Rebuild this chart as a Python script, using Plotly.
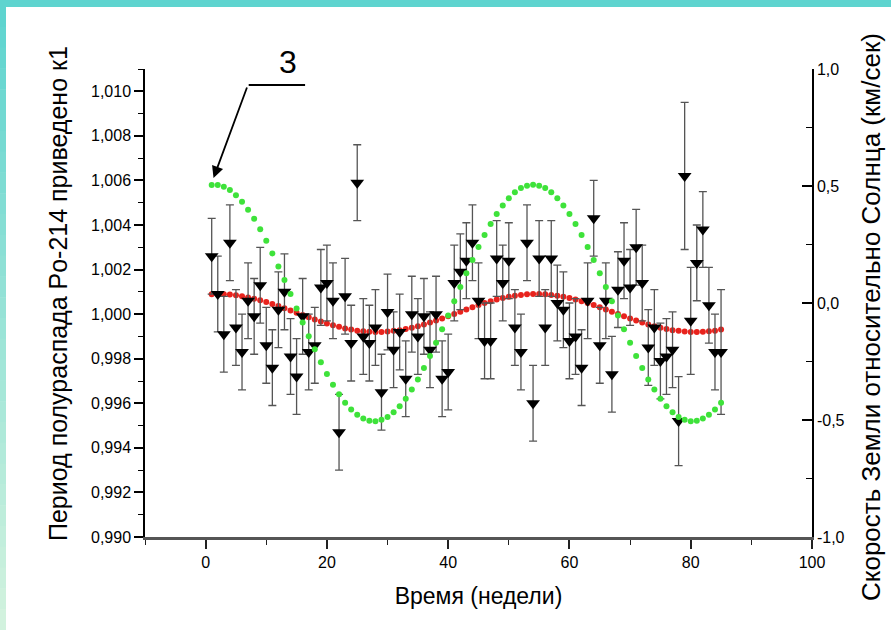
import plotly.graph_objects as go

# --- data -------------------------------------------------------------
weeks = list(range(1, 86))

# normalised Po-214 half-life measurements (left axis)
half_life = [
    1.0026, 1.0009, 0.9991, 1.0032, 0.9994, 0.9983, 1.0006, 0.9999, 1.0013, 0.9986,
    0.9976, 1.0002, 1.0010, 0.9981, 0.9972, 0.9999, 0.9983, 0.9986, 1.0012, 1.0014,
    1.0006, 0.9947, 1.0008, 0.9987, 1.0059, 0.9990, 0.9987, 0.9994, 0.9965, 1.0001,
    0.9984, 0.9992, 0.9971, 1.0000, 0.9990, 0.9999, 0.9984, 1.0000, 0.9971, 0.9974,
    1.0014, 1.0019, 1.0024, 1.0032, 1.0006, 0.9988, 0.9988, 1.0025, 1.0014, 1.0024,
    0.9994, 0.9983, 1.0032, 0.9960, 1.0025, 0.9994, 1.0025, 1.0005, 1.0002, 0.9988,
    0.9990, 0.9976, 1.0006, 1.0043, 0.9986, 1.0006, 0.9973, 1.0011, 1.0024, 1.0012,
    1.0030, 1.0014, 0.9985, 0.9994, 0.9979, 0.9981, 0.9984, 0.9952, 1.0062, 0.9997,
    1.0023, 1.0038, 1.0004, 0.9983, 0.9983,
]

half_life_err = [0.0017] * 77 + [0.0020, 0.0033, 0.0024, 0.0017, 0.0017, 0.0017, 0.0017, 0.0028]

# fitted half-life curve (left axis)
half_life_fit = [
    1.00089, 1.00090, 1.00089, 1.00088, 1.00085, 1.00080, 1.00075, 1.00069, 1.00062, 1.00054,
    1.00045, 1.00036, 1.00026, 1.00016, 1.00006, 0.99996, 0.99986, 0.99976, 0.99967, 0.99958,
    0.99950, 0.99943, 0.99936, 0.99931, 0.99926, 0.99923, 0.99921, 0.99920, 0.99920, 0.99922,
    0.99925, 0.99928, 0.99933, 0.99939, 0.99946, 0.99954, 0.99963, 0.99972, 0.99981, 0.99991,
    1.00001, 1.00011, 1.00021, 1.00031, 1.00041, 1.00050, 1.00058, 1.00066, 1.00072, 1.00078,
    1.00083, 1.00086, 1.00089, 1.00090, 1.00090, 1.00089, 1.00086, 1.00083, 1.00078, 1.00072,
    1.00066, 1.00058, 1.00050, 1.00041, 1.00031, 1.00021, 1.00011, 1.00001, 0.99991, 0.99981,
    0.99972, 0.99963, 0.99954, 0.99946, 0.99939, 0.99933, 0.99928, 0.99925, 0.99922, 0.99920,
    0.99920, 0.99921, 0.99923, 0.99926, 0.99931,
]

# Earth velocity relative to the Sun, deviation in km/s (right axis)
earth_velocity = [
    0.504, 0.504, 0.497, 0.483, 0.461, 0.433, 0.399, 0.360, 0.315, 0.266,
    0.212, 0.156, 0.098, 0.038, -0.023, -0.083, -0.142, -0.198, -0.253, -0.303,
    -0.349, -0.390, -0.426, -0.455, -0.478, -0.494, -0.503, -0.505, -0.499, -0.487,
    -0.467, -0.441, -0.409, -0.370, -0.327, -0.278, -0.226, -0.170, -0.112, -0.053,
    0.008, 0.068, 0.127, 0.184, 0.239, 0.291, 0.338, 0.380, 0.417, 0.448,
    0.473, 0.491, 0.501, 0.505, 0.501, 0.491, 0.473, 0.448, 0.417, 0.380,
    0.338, 0.291, 0.239, 0.184, 0.127, 0.068, 0.008, -0.053, -0.112, -0.170,
    -0.226, -0.278, -0.327, -0.370, -0.409, -0.441, -0.467, -0.487, -0.499, -0.505,
    -0.503, -0.494, -0.478, -0.455, -0.426,
]

x_ticks = [0, 20, 40, 60, 80, 100]
left_ticks = [0.990, 0.992, 0.994, 0.996, 0.998, 1.000, 1.002, 1.004, 1.006, 1.008, 1.010]
right_ticks = [-1.0, -0.5, 0.0, 0.5, 1.0]
right_tick_text = ["-1,0", "-0,5", "0,0", "0,5", "1,0"]

left_title = "Период полураспада Po-214 приведено к1"
right_title = "Скорость Земли относительно Солнца (км/сек)"
x_title = "Время (недели)"

# --- styling ------------------------------------------------------------
SANS = "Liberation Sans, Arial, sans-serif"

fig = go.Figure()

fig.add_trace(go.Scatter(
    x=weeks, y=half_life_fit, mode="markers", yaxis="y",
    marker=dict(symbol="circle", size=6, color="#e8231d", line=dict(width=0)),
    showlegend=False, hoverinfo="skip",
))

fig.add_trace(go.Scatter(
    x=weeks, y=half_life, mode="markers", yaxis="y",
    marker=dict(symbol="triangle-down", size=12, color="black", line=dict(width=0)),
    error_y=dict(type="data", array=half_life_err, visible=True,
                 color="#555555", thickness=1.3, width=4),
    showlegend=False,
))

fig.add_trace(go.Scatter(
    x=weeks, y=earth_velocity, mode="markers", yaxis="y2",
    marker=dict(symbol="circle", size=6, color="#3ee23a", line=dict(width=0)),
    showlegend=False, hoverinfo="skip",
))

# decorative frame: teal strip on top, teal-to-mint strip on the left
W, H = 891, 630
L, R, T, B = 145, 812, 69, 537
pw, ph = R - L, B - T


def px_x(v):
    return (v - L) / pw


def px_y(v):
    return (B - v) / ph


shapes = [dict(type="rect", xref="paper", yref="paper",
               x0=px_x(-2), x1=px_x(W + 2), y0=px_y(7), y1=px_y(-2),
               fillcolor="#5ed4cf", line=dict(width=0), layer="above")]
n_seg = 30
top_rgb = (94, 212, 207)
bot_rgb = (210, 242, 222)
for i in range(n_seg):
    t = i / (n_seg - 1)
    c = tuple(round(a + (b - a) * t) for a, b in zip(top_rgb, bot_rgb))
    y_top = 6 + (H - 6) * i / n_seg
    y_bot = 6 + (H - 6) * (i + 1) / n_seg + 0.5
    shapes.append(dict(type="rect", xref="paper", yref="paper",
                       x0=px_x(-2), x1=px_x(6), y0=px_y(y_bot), y1=px_y(y_top),
                       fillcolor="rgb(%d,%d,%d)" % c, line=dict(width=0), layer="above"))

# leader line of label "3"
shapes.append(dict(type="line", xref="x", yref="y2",
                   x0=7.1, x1=16.4, y0=0.932, y1=0.932,
                   line=dict(color="black", width=2)))

fig.update_layout(
    width=W, height=H,
    margin=dict(l=L, r=W - R, t=T, b=H - B, pad=0),
    paper_bgcolor="white", plot_bgcolor="white",
    separators=", ",
    font=dict(family=SANS, color="black", size=16),
    shapes=shapes,
    xaxis=dict(
        range=[-10, 100], tickvals=x_ticks, ticks="outside", ticklen=9, tickwidth=1.5,
        tickcolor="#222", showline=True, linecolor="#555", linewidth=2.5,
        showgrid=False, zeroline=False,
        minor=dict(ticks="outside", ticklen=5, dtick=10, tick0=0, tickwidth=1.2, tickcolor="#222"),
        tickfont=dict(family=SANS, size=16),
        title=dict(text=x_title, font=dict(family=SANS, size=23), standoff=18),
    ),
    yaxis=dict(
        range=[0.990, 1.011], tickvals=left_ticks, tickformat=".3f",
        ticks="outside", ticklen=9, tickwidth=1.5, tickcolor="black",
        showline=True, linecolor="black", linewidth=1.5,
        showgrid=False, zeroline=False,
        minor=dict(ticks="outside", ticklen=5, dtick=0.001, tick0=0.990, tickwidth=1.2, tickcolor="black"),
        tickfont=dict(family=SANS, size=16),
    ),
    yaxis2=dict(
        range=[-1, 1], overlaying="y", side="right", anchor="x",
        tickvals=right_ticks, ticktext=right_tick_text,
        ticks="inside", ticklen=10, tickwidth=1.5, tickcolor="black",
        showline=True, linecolor="black", linewidth=1.5,
        showgrid=False, zeroline=False,
        minor=dict(ticks="inside", ticklen=6, dtick=0.25, tick0=-1, tickwidth=1.2, tickcolor="black"),
        tickfont=dict(family=SANS, size=16),
    ),
    annotations=[
        dict(x=1.3, y=0.534, xref="x", yref="y2", text="", showarrow=True,
             ax=34, ay=-92, axref="pixel", ayref="pixel",
             arrowhead=2, arrowsize=1.3, arrowwidth=1.8, arrowcolor="black"),
        dict(x=px_x(288), y=px_y(62), xref="paper", yref="paper", text="3",
             showarrow=False, xanchor="center", yanchor="middle",
             font=dict(family=SANS, size=32, color="black")),
        dict(x=px_x(58), y=px_y(294), xref="paper", yref="paper", text=left_title,
             textangle=-90, showarrow=False, xanchor="center", yanchor="middle",
             font=dict(family=SANS, size=25, color="black")),
        dict(x=px_x(871), y=px_y(317), xref="paper", yref="paper", text=right_title,
             textangle=-90, showarrow=False, xanchor="center", yanchor="middle",
             font=dict(family=SANS, size=26, color="black")),
    ],
)

fig.write_html("out.html")
